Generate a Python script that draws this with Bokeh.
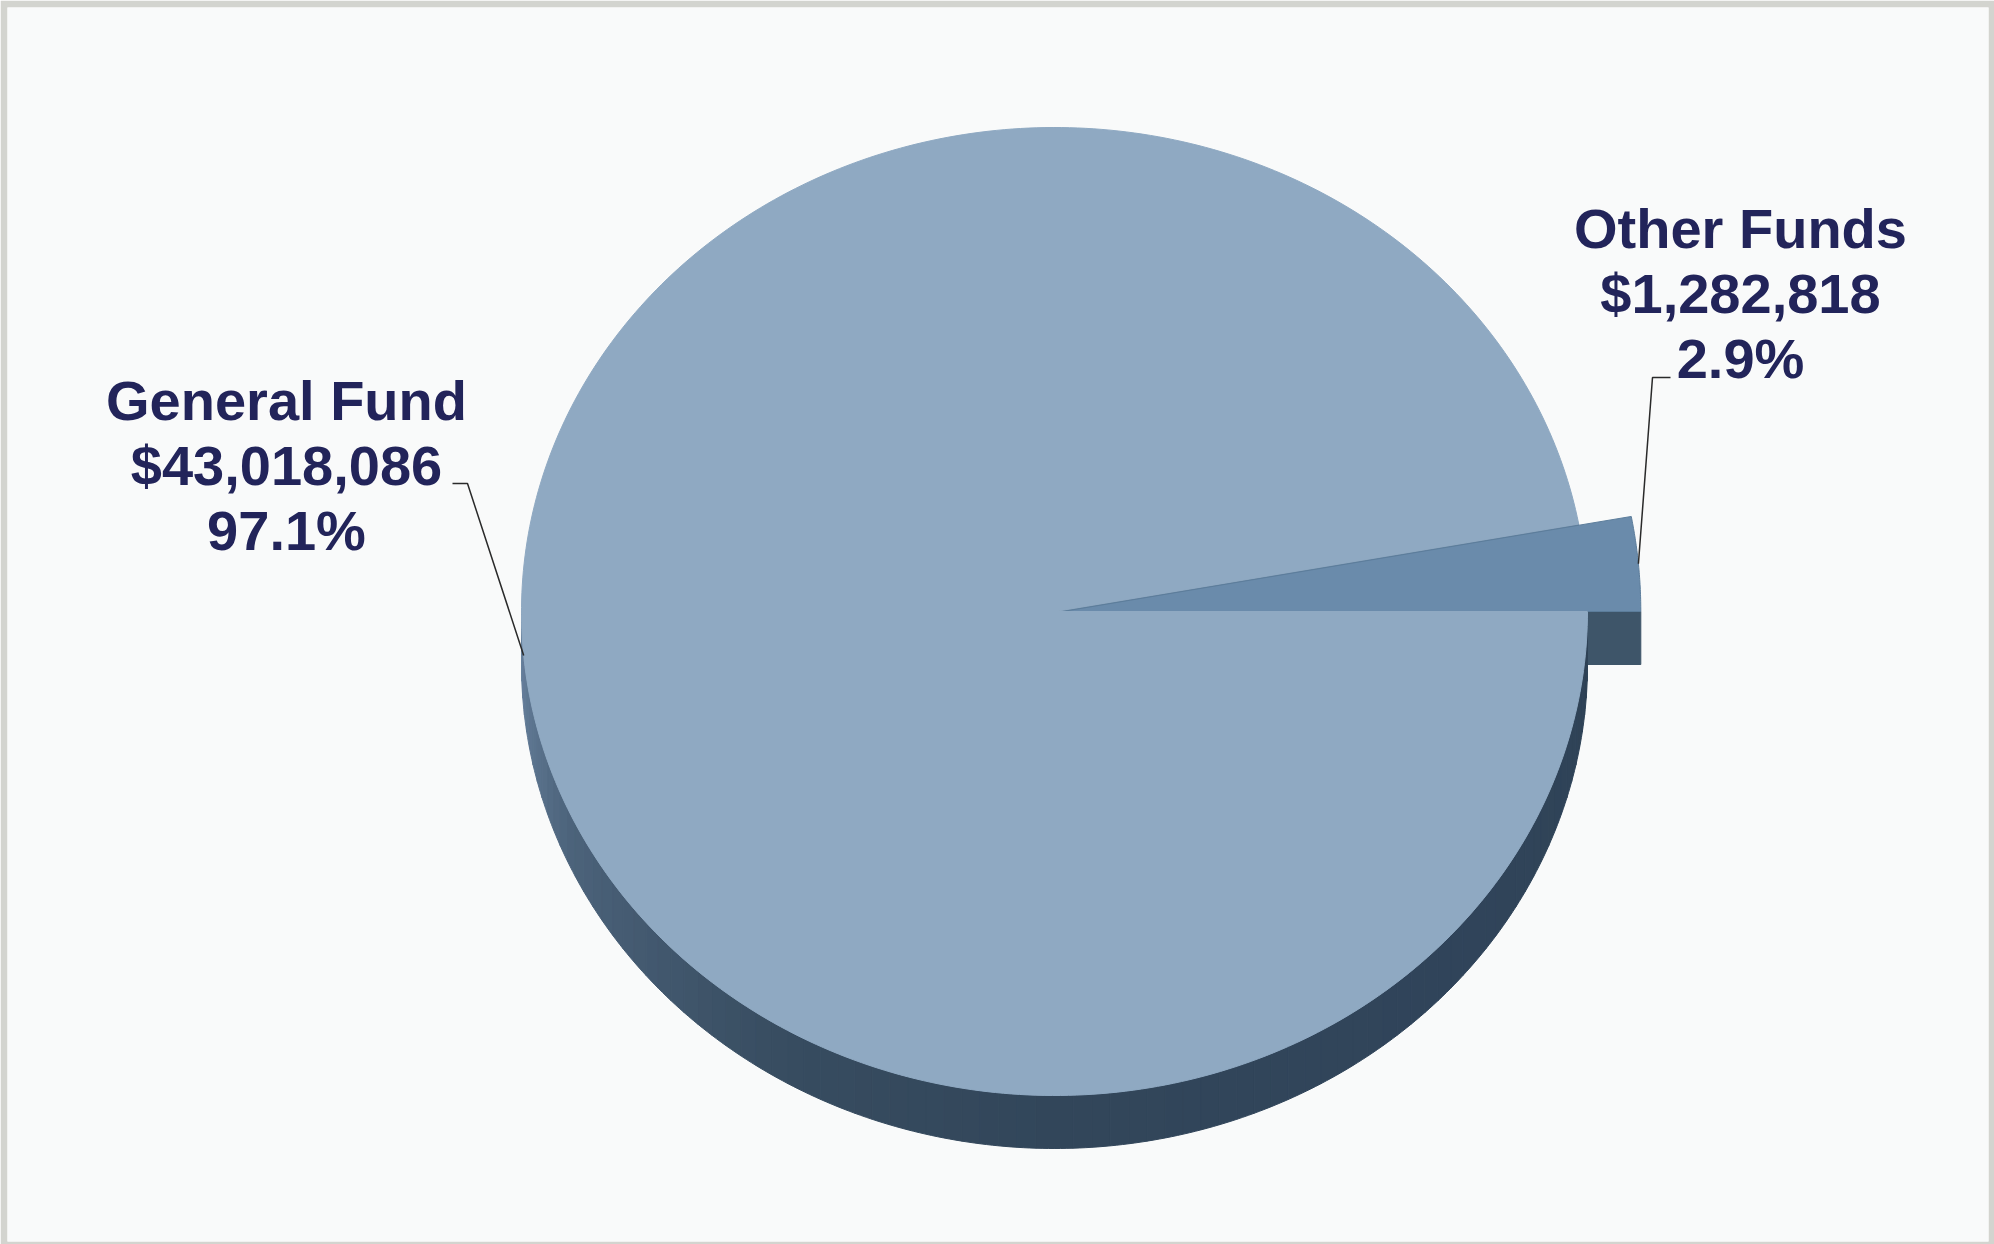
import numpy as np
from bokeh.plotting import figure
from bokeh.models import Range1d
from bokeh.embed import file_html
from bokeh.resources import INLINE
from bokeh.core.properties import value

# ---------------- data ----------------
categories = ["General Fund", "Other Funds"]
amounts = [43018086, 1282818]

# ---------------- layout (screen px of the reference) ----------------
W, H = 1994, 1244
B_L, B_T, B_R, B_B = 7, 7, 6, 3     # grey frame widths
def sx(x):
    return np.asarray(x, dtype=float)
def sy(y):
    return H - np.asarray(y, dtype=float)

CX, CY = 1054, 611         # pie centre (top surface)
RX, RY = 533, 484          # ellipse radii of top surface
DEPTH = 53                 # thickness of the pie
EXPL_DX = 8                # exploded slice offset
EXPL_SCALE = 1.085         # exploded slice appears larger (perspective)

LABEL_POS = {"General Fund": (286, 400), "Other Funds": (1740, 228)}
LINE_STEP = 65
LEADER_ELBOW = {"General Fund": ((452, 483), (467, 483)),
                "Other Funds": ((1670, 377), (1652, 377))}

TOP_MAIN = "#8fa9c2"
TOP_SLICE = "#6a8bab"
FACE_SLICE = "#3e5569"
CUT_MAIN = "#6f8ba6"
TEXT_COL = "#22245a"

total = float(sum(amounts))
fracs = [a / total for a in amounts]
# Other Funds from 0° counter-clockwise, General Fund takes the rest
other_a0, other_a1 = 0.0, 360.0 * fracs[1]
gen_a0, gen_a1 = other_a1, 360.0


def ell(t_deg, cx=CX, cy=CY, rx=RX, ry=RY, dy=0.0):
    t = np.radians(t_deg)
    return cx + rx * np.cos(t), cy - ry * np.sin(t) + dy


p = figure(width=W, height=H,
           x_range=Range1d(B_L, W - B_R), y_range=Range1d(B_B, H - B_T),
           output_backend="svg", toolbar_location=None,
           min_border_left=B_L, min_border_top=B_T,
           min_border_right=B_R, min_border_bottom=B_B)
p.axis.visible = False
p.grid.visible = False
p.background_fill_color = "#f9fafa"
p.border_fill_color = "#d3d4cf"
p.outline_line_color = None

# --- cut face of main pie at gen_a0 (under the slice) ---
rx0, ry0 = ell(gen_a0)
p.patch(sx([CX, rx0, rx0, CX]), sy([CY, ry0, ry0 + DEPTH, CY + DEPTH]),
        fill_color=CUT_MAIN, line_color=CUT_MAIN, line_width=1)

# --- exploded slice (Other Funds) ---
scx, scy = CX + EXPL_DX, CY
srx, sry = RX * EXPL_SCALE, RY * EXPL_SCALE
fx, fy = ell(other_a0, scx, scy, srx, sry)
p.patch(sx([scx, fx, fx, scx]), sy([scy, fy, fy + DEPTH, scy + DEPTH]),
        fill_color=FACE_SLICE, line_color=FACE_SLICE, line_width=1)
ts = np.linspace(other_a0, other_a1, 40)
ax, ay = ell(ts, scx, scy, srx, sry)
p.patch(sx(np.r_[scx, ax]), sy(np.r_[scy, ay]),
        fill_color=TOP_SLICE, line_color="#5c7d9b", line_width=1)

# --- side wall of main pie (front half), shaded strips ---
def lerp_col(c1, c2, f):
    a = [int(c1[i:i + 2], 16) for i in (1, 3, 5)]
    b = [int(c2[i:i + 2], 16) for i in (1, 3, 5)]
    return "#%02x%02x%02x" % tuple(int(round(a[i] + (b[i] - a[i]) * f)) for i in range(3))

stops = [(180, "#6a84a0"), (205, "#4c637b"), (240, "#374c60"),
         (270, "#32465a"), (320, "#30445a"), (360, "#2f4356")]
def side_col(t):
    for (t1, c1), (t2, c2) in zip(stops[:-1], stops[1:]):
        if t1 <= t <= t2:
            return lerp_col(c1, c2, (t - t1) / (t2 - t1))
    return stops[-1][1]

edges = np.linspace(180, 360, 91)
xs_list, ys_list, cols = [], [], []
for a, b in zip(edges[:-1], edges[1:]):
    tt = np.linspace(a, b, 4)
    tx, ty = ell(tt)
    bx, by = ell(tt[::-1], dy=DEPTH)
    xs_list.append(sx(np.r_[tx, bx]))
    ys_list.append(sy(np.r_[ty, by]))
    cols.append(side_col((a + b) / 2))
p.patches(xs_list, ys_list, fill_color=cols, line_color=cols, line_width=1)

# --- top surface of main pie (General Fund) ---
tg = np.linspace(gen_a0, gen_a1, 400)
gx, gy = ell(tg)
p.patch(sx(np.r_[CX, gx]), sy(np.r_[CY, gy]),
        fill_color=TOP_MAIN, line_color=TOP_MAIN, line_width=1)

# --- labels and leader lines ---
mid_angles = {"General Fund": (gen_a0 + gen_a1) / 2,
              "Other Funds": (other_a0 + other_a1) / 2}
for name, amt, fr in zip(categories, amounts, fracs):
    lx, ly = LABEL_POS[name]
    lines = [name, "${:,}".format(amt), "{:.1f}%".format(fr * 100)]
    p.text(x=[float(sx(lx))] * 3,
           y=[float(sy(ly + i * LINE_STEP)) for i in range(3)],
           text=lines, text_align="center", text_baseline="alphabetic",
           text_font=value("Liberation Sans"), text_font_style="bold",
           text_font_size="56px", text_color=TEXT_COL)
    if name == "Other Funds":
        ex, ey = ell(mid_angles[name], scx, scy, srx, sry)
    else:
        ex, ey = ell(mid_angles[name])
    (e1x, e1y), (e2x, e2y) = LEADER_ELBOW[name]
    p.line(sx([e1x, e2x, ex]), sy([e1y, e2y, ey]),
           line_color="#2a2a2a", line_width=1.5)

open("out.html", "w").write(file_html(p, INLINE))
